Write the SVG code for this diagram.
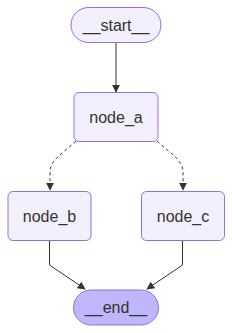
<svg xmlns="http://www.w3.org/2000/svg" width="232" height="333" viewBox="0 0 232 333">
<style>
.node rect{fill:#f2f0ff;stroke:#9370db;stroke-width:1}
.node.end rect{fill:#bfb6fc}
.node text{font-family:"Liberation Sans",Arial,sans-serif;font-size:16px;fill:#333;text-anchor:middle;dominant-baseline:central}
.edge{fill:none;stroke:#333;stroke-width:1}
.dash{stroke-dasharray:3,3}
</style>
<defs>
<marker id="arr" viewBox="0 0 10 10" refX="9" refY="5" markerWidth="8" markerHeight="8" markerUnits="userSpaceOnUse" orient="auto">
<path d="M0,0 L10,5 L0,10 z" fill="#333"/>
</marker>
</defs>
<rect width="232" height="333" fill="#fff"/>
<g id="edges">
<path class="edge" d="M116,42 L116,92" marker-end="url(#arr)"/>
<path class="edge dash" d="M76,141 C62,154 50,160 50,172 L50,190" marker-end="url(#arr)"/>
<path class="edge dash" d="M157,141 C171,154 183,160 183,172 L183,190" marker-end="url(#arr)"/>
<path class="edge" d="M49.5,241 L49.5,265 L85,289" marker-end="url(#arr)"/>
<path class="edge" d="M182.5,241 L182.5,265 L147,289" marker-end="url(#arr)"/>
</g>
<g id="start" class="node"><rect x="71" y="7.5" width="90" height="35" rx="17.5"/><text x="116" y="25">__start__</text></g>
<g id="node_a" class="node"><rect x="74" y="92.5" width="84" height="49" rx="5"/><text x="116" y="117">node_a</text></g>
<g id="node_b" class="node"><rect x="8" y="191.5" width="83" height="49" rx="5"/><text x="49.5" y="216">node_b</text></g>
<g id="node_c" class="node"><rect x="141.5" y="191.5" width="83" height="49" rx="5"/><text x="183" y="216">node_c</text></g>
<g id="end" class="node end"><rect x="73.5" y="290" width="85" height="35" rx="17.5"/><text x="116" y="307.5">__end__</text></g>
</svg>
